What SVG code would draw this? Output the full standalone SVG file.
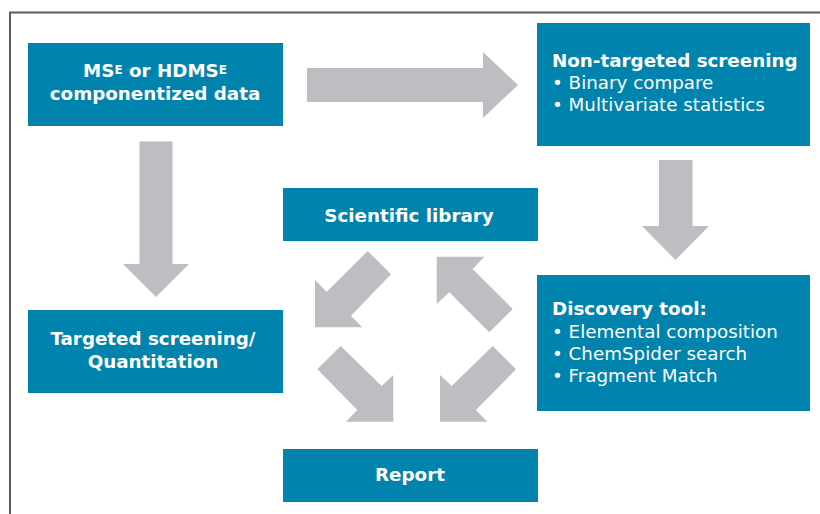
<svg xmlns="http://www.w3.org/2000/svg" width="820" height="514" viewBox="0 0 820 514">
  <style>
    .box { fill: #0084ad; }
    .arrow { fill: #bdbec1; }
    .hd { font-family: "DejaVu Sans", Verdana, sans-serif; font-weight: bold; font-size: 18.3px; fill: #ffffff; }
    .tx { font-family: "DejaVu Sans", Verdana, sans-serif; font-size: 18.3px; fill: #ffffff; }
    .sup { font-size: 12px; }
  </style>
  <rect width="820" height="514" fill="#ffffff"/>
  <!-- frame: only the top and left edges fall inside the page -->
  <path d="M10,514 V12.5 H820" fill="none" stroke="#5a5a5a" stroke-width="2"/>

  <g id="connectors">
    <!-- data -> non-targeted screening -->
    <polygon class="arrow" points="307,68 483,68 483,52 518,85 483,118 483,102 307,102"/>
    <!-- data -> targeted screening -->
    <polygon class="arrow" points="139.5,141.5 172.5,141.5 172.5,264 189,264 156,297 123,264 139.5,264"/>
    <!-- non-targeted -> discovery tool -->
    <polygon class="arrow" points="659,160 692.5,160 692.5,226 709,226 675.5,260 642,226 659,226"/>
    <!-- scientific library -> report (down-left) -->
    <polygon class="arrow" points="315,280 326.7,291.7 367.7,251 391,274.3 351,315.7 362.3,327.3 315,327.3"/>
    <!-- discovery tool -> scientific library (up-left) -->
    <polygon class="arrow" points="436.7,256.7 484.3,256.7 472.7,269 512.7,309 489.3,332.3 449.3,292.3 436.7,304"/>
    <!-- into report, from the left -->
    <polygon class="arrow" points="340.7,346 317.3,369.3 357.3,410 346,421.7 393.3,421.7 393.3,375 381.7,386"/>
    <!-- into report, from the right -->
    <polygon class="arrow" points="492.7,346 516,369.3 476,410 487.3,421.7 440,421.7 440,375 451.7,386"/>
  </g>

  <g id="node-data">
    <rect class="box" x="28" y="43" width="255" height="83"/>
    <text class="hd" x="155" y="76.7" text-anchor="middle">MS<tspan class="sup" dy="-3">E</tspan><tspan dy="3"> or HDMS</tspan><tspan class="sup" dy="-3">E</tspan></text>
    <text class="hd" x="155" y="99.5" text-anchor="middle">componentized data</text>
  </g>

  <g id="node-nontargeted">
    <rect class="box" x="537" y="23" width="273" height="123"/>
    <text class="hd" x="552" y="66.7">Non-targeted screening</text>
    <text class="tx" x="552" y="88.7">• Binary compare</text>
    <text class="tx" x="552" y="110.7">• Multivariate statistics</text>
  </g>

  <g id="node-library">
    <rect class="box" x="283" y="188" width="255" height="53"/>
    <text class="hd" x="409" y="221.5" text-anchor="middle">Scientific library</text>
  </g>

  <g id="node-targeted">
    <rect class="box" x="28" y="310" width="255" height="83"/>
    <text class="hd" x="153" y="345" text-anchor="middle">Targeted screening/</text>
    <text class="hd" x="153" y="367.5" text-anchor="middle">Quantitation</text>
  </g>

  <g id="node-discovery">
    <rect class="box" x="537" y="275" width="273" height="136"/>
    <text class="hd" x="552" y="315">Discovery tool:</text>
    <text class="tx" x="552" y="337.5">• Elemental composition</text>
    <text class="tx" x="552" y="359.5">• ChemSpider search</text>
    <text class="tx" x="552" y="381.5">• Fragment Match</text>
  </g>

  <g id="node-report">
    <rect class="box" x="283" y="449" width="255" height="53"/>
    <text class="hd" x="410" y="481" text-anchor="middle">Report</text>
  </g>
</svg>
